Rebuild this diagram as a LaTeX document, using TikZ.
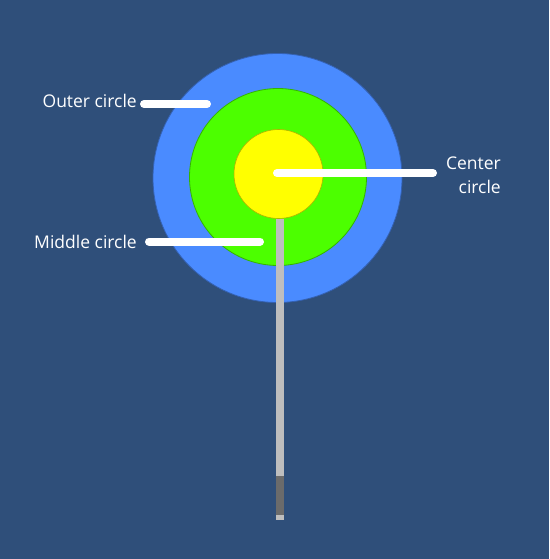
\documentclass[tikz,border=0pt]{standalone}
\usepackage{fontspec}
\setmainfont{Open Sans}
\definecolor{bg}{RGB}{47,79,122}
\definecolor{outerc}{RGB}{74,139,255}
\definecolor{midc}{RGB}{76,255,0}
\definecolor{cenc}{RGB}{255,255,0}
\definecolor{stickc}{RGB}{190,190,190}
\definecolor{stickd}{RGB}{107,107,107}
\tikzset{
  disc/.style={circle, inner sep=0pt, minimum size=#1},
  pointer/.style={draw=white, line width=8pt, line cap=round},
  lbl/.style={text=white, font=\fontsize{17.5}{24}\selectfont, inner sep=0pt}
}
\begin{document}
\begin{tikzpicture}[x=1pt,y=-1pt]
\fill[bg] (0,0) rectangle (549,559);
\useasboundingbox (0,0) rectangle (549,559);
% circles
\node[disc=249pt, fill=outerc, draw=outerc!70!black, line width=0.8pt] (outer) at (277.5,178) {};
\node[disc=177pt, fill=midc, draw=midc!70!black, line width=0.8pt] (middle) at (278,177) {};
\node[disc=89pt, fill=cenc, draw=cenc!70!black, line width=0.6pt] (center) at (278.5,174) {};
% stick
\fill[stickc] (276,219) rectangle (283.5,520);
\fill[stickd] (276,476) rectangle (284,515);
% labels
\node[lbl, anchor=base east] (tOuter) at (137,107) {Outer circle};
\node[lbl, anchor=base east] (tMiddle) at (137,248) {Middle circle};
\node[lbl, align=right, anchor=base east] (tCenter) at (501,193) {Center\\circle};
% pointers
\coordinate (oA) at (144,104);
\coordinate (oB) at (207,104);
\coordinate (mA) at (149,241.5);
\coordinate (mB) at (260,241.5);
\coordinate (cA) at (277,173);
\coordinate (cB) at (433,173);
\draw[pointer] (oA) -- (oB);
\draw[pointer] (mA) -- (mB);
\draw[pointer] (cA) -- (cB);
\end{tikzpicture}
\end{document}
